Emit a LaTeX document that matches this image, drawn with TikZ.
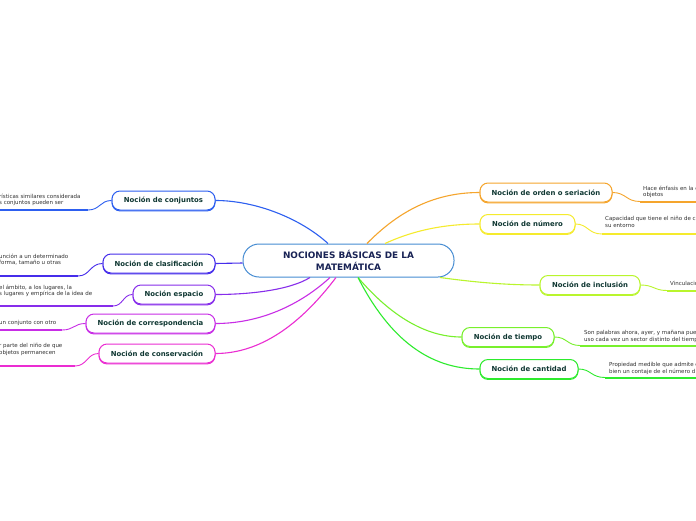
\documentclass[tikz,border=0pt]{standalone}
\usepackage{fontspec}
\setmainfont{DejaVu Sans}
\definecolor{cConj}{RGB}{45,95,240}
\definecolor{cClas}{RGB}{70,45,235}
\definecolor{cEsp}{RGB}{135,45,235}
\definecolor{cCorr}{RGB}{200,45,230}
\definecolor{cCons}{RGB}{235,45,210}
\definecolor{cOrd}{RGB}{245,165,45}
\definecolor{cNum}{RGB}{245,235,45}
\definecolor{cInc}{RGB}{185,245,45}
\definecolor{cTiem}{RGB}{120,240,45}
\definecolor{cCant}{RGB}{45,235,45}
\definecolor{cCtr}{RGB}{70,140,210}
\definecolor{txtNode}{RGB}{15,55,50}
\definecolor{txtCtr}{RGB}{25,35,85}
\definecolor{txtLeaf}{RGB}{50,50,50}
\tikzset{
  mnode/.style={draw=#1, line width=1pt, rounded corners=8pt, fill=white,
    preaction={draw=#1, line width=1pt, transform canvas={yshift=-0.9pt}},
    text=txtNode, font=\fontsize{6.9}{8}\selectfont\bfseries, inner sep=0pt,
    minimum height=19pt},
  conn/.style={draw=#1, line width=1.1pt},
  leafline/.style={draw=#1, line width=0.9pt},
  under/.style={draw=#1, line width=2pt},
  leaftext/.style={text=txtLeaf, font=\fontsize{5.5}{6.8}\selectfont, align=left, inner sep=0pt, anchor=north west}
}
\begin{document}
\begin{tikzpicture}[x=1pt,y=-1pt]
\useasboundingbox (0,0) rectangle (696,520);
\clip (0,0) rectangle (696,520);
\fill[white] (0,0) rectangle (696,520);

% connectors from center
\draw[conn=cConj] (328,244) coordinate (sConj);
\node[draw=cCtr, line width=1pt, rounded corners=16pt, fill=white, text=txtCtr,
  font=\fontsize{8.9}{11.2}\selectfont\bfseries, align=center, inner sep=0pt,
  minimum width=211pt, minimum height=33pt] (ctr) at (348.5,260.5) {NOCIONES BÁSICAS DE LA\\MATEMÁTICA};

% branch nodes
\node[mnode=cConj, minimum width=103pt] (conj) at (163.5,200.5) {Noción de conjuntos};
\node[mnode=cClas, minimum width=112pt] (clas) at (159,263.5) {Noción de clasificación};
\node[mnode=cEsp, minimum width=82pt] (esp) at (174,294.5) {Noción espacio};
\node[mnode=cCorr, minimum width=129pt] (corr) at (150.5,323.5) {Noción de correspondencia};
\node[mnode=cCons, minimum width=116pt] (cons) at (157,353.5) {Noción de conservación};
\node[mnode=cOrd, minimum width=132pt] (ord) at (546,192.5) {Noción de orden o seriación};
\node[mnode=cNum, minimum width=95pt] (num) at (527.5,224) {Noción de número};
\node[mnode=cInc, minimum width=100pt] (inc) at (590,285) {Noción de inclusión};
\node[mnode=cTiem, minimum width=92pt] (tiem) at (508,337) {Noción de tiempo};
\node[mnode=cCant, minimum width=98pt] (cant) at (529,369) {Noción de cantidad};

\draw[conn=cConj] ([xshift=-20.5pt]ctr.north) .. controls (300,218) and (255,200.5) .. (conj.east);
\draw[conn=cClas] ([yshift=-2.5pt]ctr.west) -- (clas.east);
\draw[conn=cEsp] ([xshift=-38.5pt]ctr.south) .. controls (290,290) and (250,294.5) .. (esp.east);
\draw[conn=cCorr] ([xshift=-18.5pt]ctr.south) .. controls (300,305) and (260,323.5) .. (corr.east);
\draw[conn=cCons] ([xshift=-12.5pt]ctr.south) .. controls (300,325) and (260,353.5) .. (cons.east);
\draw[conn=cOrd] ([xshift=18.5pt]ctr.north) .. controls (395,215) and (430,192.5) .. (ord.west);
\draw[conn=cNum] ([xshift=36.5pt]ctr.north) .. controls (410,232) and (440,224) .. (num.west);
\draw[conn=cInc] ([xshift=91.5pt]ctr.south) .. controls (480,283) and (510,285) .. (inc.west);
\draw[conn=cTiem] ([xshift=9.5pt]ctr.south) .. controls (390,315) and (425,337) .. (tiem.west);
\draw[conn=cCant] ([xshift=9.5pt]ctr.south) .. controls (390,340) and (430,369) .. (cant.west);

% leaf coordinates
\coordinate (lConjA) at (88,210);   \coordinate (lConjB) at (-2,210);
\coordinate (lClasA) at (78,276);   \coordinate (lClasB) at (-2,276);
\coordinate (lEspA) at (113,306);   \coordinate (lEspB) at (-2,306);
\coordinate (lCorrA) at (62,330);   \coordinate (lCorrB) at (-2,330);
\coordinate (lConsA) at (75,366);   \coordinate (lConsB) at (-2,366);
\coordinate (rOrdA) at (640,201.5); \coordinate (rOrdB) at (700,201.5);
\coordinate (rNumA) at (602,234);   \coordinate (rNumB) at (700,234);
\coordinate (rIncA) at (667,290.5); \coordinate (rIncB) at (700,290.5);
\coordinate (rTiemA) at (580,345.5);\coordinate (rTiemB) at (700,345.5);
\coordinate (rCantA) at (605,377.5);\coordinate (rCantB) at (700,377.5);

% left leaves
\draw[leafline=cConj] (conj.west) .. controls (100,200.5) and (100,210) .. (lConjA);
\draw[under=cConj] (lConjA) -- (lConjB);
\draw[leafline=cClas] (clas.west) .. controls (90,263.5) and (90,276) .. (lClasA);
\draw[under=cClas] (lClasA) -- (lClasB);
\draw[leafline=cEsp] (esp.west) .. controls (123,294.5) and (123,306) .. (lEspA);
\draw[under=cEsp] (lEspA) -- (lEspB);
\draw[leafline=cCorr] (corr.west) .. controls (74,323.5) and (74,330) .. (lCorrA);
\draw[under=cCorr] (lCorrA) -- (lCorrB);
\draw[leafline=cCons] (cons.west) .. controls (87,353.5) and (87,366) .. (lConsA);
\draw[under=cCons] (lConsA) -- (lConsB);

% right leaves
\draw[leafline=cOrd] (ord.east) .. controls (626,192.5) and (626,201.5) .. (rOrdA);
\draw[under=cOrd] (rOrdA) -- (rOrdB);
\draw[leafline=cNum] (num.east) .. controls (588,224) and (588,234) .. (rNumA);
\draw[under=cNum] (rNumA) -- (rNumB);
\draw[leafline=cInc] (inc.east) .. controls (654,285) and (654,290.5) .. (rIncA);
\draw[under=cInc] (rIncA) -- (rIncB);
\draw[leafline=cTiem] (tiem.east) .. controls (567,337) and (567,345.5) .. (rTiemA);
\draw[under=cTiem] (rTiemA) -- (rTiemB);
\draw[leafline=cCant] (cant.east) .. controls (591,369) and (591,377.5) .. (rCantA);
\draw[under=cCant] (rCantA) -- (rCantB);

% leaf texts
\node[leaftext] (tConj) at (-1,193.5) {rísticas similares considerada\\s conjuntos pueden ser};
\node[leaftext] (tClas) at (-1,253.5) {unción a un determinado\\forma, tamaño u otras};
\node[leaftext] (tEsp) at (-1,284.5) {el ámbito, a los lugares, la\\s lugares y empírica de la idea de};
\node[leaftext] (tCorr) at (-1,320.5) {un conjunto con otro};
\node[leaftext] (tCons) at (-1,343.5) {r parte del niño de que\\objetos permanecen};
\node[leaftext] (tOrd) at (643,185.5) {Hace énfasis en la c\\objetos};
\node[leaftext] (tNum) at (605,216.5) {Capacidad que tiene el niño de c\\su entorno};
\node[leaftext] (tInc) at (670,281.5) {Vinculacio};
\node[leaftext] (tTiem) at (584,330.5) {Son palabras ahora, ayer, y mañana pue\\uso cada vez un sector distinto del tiemp};
\node[leaftext] (tCant) at (609,362.5) {Propiedad medible que admite c\\bien un contaje de el número d};
\end{tikzpicture}
\end{document}
